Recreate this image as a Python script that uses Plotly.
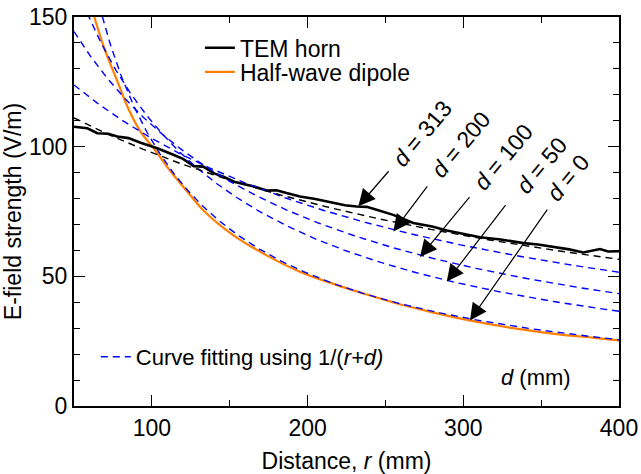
import numpy as np
import plotly.graph_objects as go

# ---------------- data ----------------
tem_r = [50, 58.6, 65, 72, 77.8, 85, 92.8, 103.5, 114.2, 120, 127, 133, 140, 146,
         152.8, 160, 165.6, 173.7, 180, 186.5, 195.1, 205, 216.5, 224, 231.5, 238,
         244.3, 255, 267.9, 280, 289.4, 300, 310.8, 324, 338.6, 348, 357.9, 368,
         377.1, 383, 387.8, 393, 398.5, 400]
tem_e = [107.7, 107.1, 105.2, 105.0, 103.9, 103.3, 101.5, 99.4, 96.8, 95.3, 92.5, 92.3,
         89.7, 88.4, 86.5, 85.5, 84.6, 83.1, 83.2, 82.1, 80.8, 79.8, 78.2, 77.4, 76.9,
         76.8, 75.7, 73.7, 70.6, 69.2, 67.7, 66.5, 65.1, 64.2, 62.8, 62.3, 61.5, 60.4,
         59.2, 59.8, 60.5, 59.6, 59.8, 59.7]

dip_r = [63, 70, 78, 85, 93, 101, 112, 123, 133, 152, 174, 195, 217, 238, 257, 279,
         304, 332, 364, 384, 400]
dip_e = [150, 137, 125, 114.5, 105.5, 99.5, 90.5, 82.5, 75.5, 66, 58, 51.8, 47, 43,
         39.6, 36.3, 33.0, 30.0, 27.4, 26.3, 25.3]

# curve fitting E = A/(r+d)
fit_d = [0, 50, 100, 200, 313]
fit_A = [10230, 16440, 21660, 30950, 40330]
fit_color = ["#0000FF", "#0000FF", "#0000FF", "#0000FF", "#000000"]

# arrow annotations: label, tip (r, E), tail (r, E), label centre (r, E)
arr_label = ["313", "200", "100", "50", "0"]
arr_tip_r = [232.6, 255.1, 272.2, 289.4, 304.3]
arr_tip_e = [77.0, 67.3, 57.5, 48.0, 33.0]
arr_tail_r = [252.9, 277.6, 304.8, 327.9, 354.6]
arr_tail_e = [91.1, 85.3, 81.1, 78.0, 76.3]
lab_r = [273.5, 298.0, 325.5, 350.5, 367.0]
lab_e = [104.8, 100.8, 96.2, 93.0, 88.0]

FONT = "Arial, 'Liberation Sans', sans-serif"
FS = 23

fig = go.Figure()

fig.add_trace(go.Scatter(x=dip_r, y=dip_e, mode="lines", name="Half-wave dipole",
                         line=dict(color="#FF8000", width=2.2, shape="spline"),
                         legend="legend3"))
fig.add_trace(go.Scatter(x=tem_r, y=tem_e, mode="lines", name="TEM horn",
                         line=dict(color="#000000", width=2.6), legend="legend"))

r_grid = np.linspace(50, 400, 351)
for i, (d, A, c) in enumerate(zip(fit_d, fit_A, fit_color)):
    fig.add_trace(go.Scatter(
        x=r_grid, y=A / (r_grid + d), mode="lines",
        line=dict(color=c, width=1.4, dash="7px,5px"),
        name="Curve fitting using 1/(<i>r+d)</i>",
        showlegend=(i == 0), legend="legend2", hoverinfo="skip"))

ann = []
for lb, tr, te, ar, ae, lr, le in zip(arr_label, arr_tip_r, arr_tip_e, arr_tail_r,
                                      arr_tail_e, lab_r, lab_e):
    ann.append(dict(x=tr, y=te, ax=ar, ay=ae, xref="x", yref="y", axref="x", ayref="y",
                    text="", showarrow=True, arrowhead=2, arrowsize=2.8,
                    arrowwidth=1.2, arrowcolor="black", standoff=0, startstandoff=0))
    ann.append(dict(x=lr, y=le, xref="x", yref="y", text="<i>d</i> = " + lb,
                    showarrow=False, textangle=-50,
                    font=dict(family=FONT, size=FS, color="black")))
ann.append(dict(x=346.7, y=10.8, xref="x", yref="y", text="<i>d</i> (mm)",
                showarrow=False, font=dict(family=FONT, size=22, color="black")))

axis_common = dict(showline=True, linewidth=2, linecolor="black", mirror="ticks",
                   ticks="inside", ticklen=11, tickwidth=1.3, tickcolor="black",
                   showgrid=False, zeroline=False, automargin=False,
                   tickfont=dict(family=FONT, size=FS, color="black"))

legend_common = dict(bgcolor="rgba(0,0,0,0)", borderwidth=0,
                     font=dict(family=FONT, size=FS, color="black"),
                     xanchor="left", yanchor="middle", itemwidth=30)

fig.update_layout(
    width=641, height=474,
    margin=dict(l=74, r=22, t=17, b=68, autoexpand=False),
    paper_bgcolor="white", plot_bgcolor="white",
    font=dict(family=FONT, size=FS, color="black"),
    xaxis=dict(range=[50, 400], tick0=0, dtick=100,
               minor=dict(dtick=50, ticks="inside", ticklen=6, tickwidth=1.3,
                          tickcolor="black", showgrid=False),
               title=dict(text="Distance, <i>r</i> (mm)", standoff=13,
                          font=dict(family=FONT, size=FS)),
               **axis_common),
    yaxis=dict(range=[0, 150], tick0=0, dtick=50,
               minor=dict(dtick=10, ticks="inside", ticklen=6, tickwidth=1.3,
                          tickcolor="black", showgrid=False),
               title=dict(text="E-field strength (V/m)", standoff=1,
                          font=dict(family=FONT, size=FS)),
               **axis_common),
    legend=dict(x=0.231, y=0.921, **legend_common),
    legend3=dict(x=0.231, y=0.859, **legend_common),
    legend2=dict(x=0.04, y=0.126, **{**legend_common,
                                     "font": dict(family=FONT, size=22, color="black")}),
    annotations=ann,
    showlegend=True,
)

fig.write_html("out.html", config={"displayModeBar": False},
               post_script="document.body.style.margin='0px';"
                           "document.body.style.overflow='hidden';")
